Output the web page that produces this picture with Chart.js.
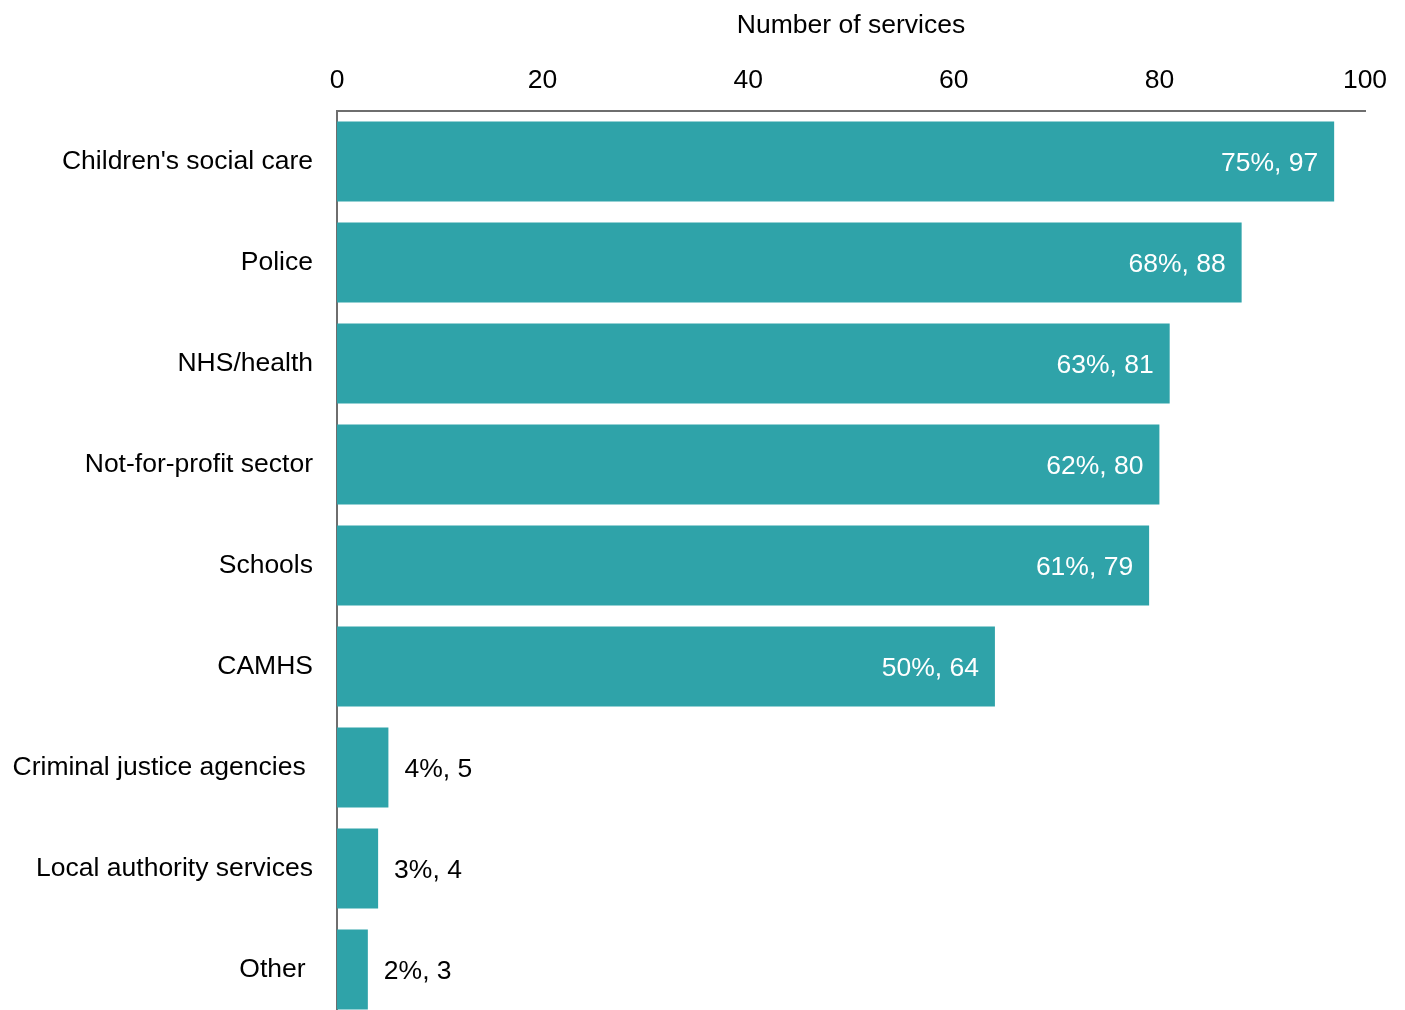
<!DOCTYPE html>
<html>
<head>
<meta charset="utf-8">
<script src="https://cdn.jsdelivr.net/npm/chart.js@4/dist/chart.umd.min.js"></script>
<style>
    html, body { margin: 0; padding: 0; background: #fff; overflow: hidden; }
    #servicesChart { position: absolute; left: 0; top: 0; }
</style>
</head>
<body>
<canvas id="servicesChart" width="1405" height="1020"></canvas>
<script>
// trailing spaces kept as in the source labels
const categories = [
    "Children's social care",
    'Police',
    'NHS/health',
    'Not-for-profit sector',
    'Schools',
    'CAMHS',
    'Criminal justice agencies ',
    'Local authority services',
    'Other '
];
const serviceCounts = [97, 88, 81, 80, 79, 64, 5, 4, 3];
const servicePercents = [75, 68, 63, 62, 61, 50, 4, 3, 2];
const xTicks = [0, 20, 40, 60, 80, 100];

const font = { family: '"Liberation Sans", Arial, sans-serif', size: 26.5 };

// value labels: white inside long bars, black beside short ones
const barLabels = {
    id: 'barLabels',
    afterDatasetsDraw(chart) {
        const ctx = chart.ctx;
        const meta = chart.getDatasetMeta(0);
        ctx.save();
        ctx.font = font.size + 'px ' + font.family;
        ctx.textBaseline = 'middle';
        meta.data.forEach(function(bar, i) {
            const text = servicePercents[i] + '%, ' + serviceCounts[i];
            if (serviceCounts[i] >= 20) {
                ctx.fillStyle = '#ffffff';
                ctx.textAlign = 'right';
                ctx.fillText(text, bar.x - 16, bar.y + 2);
            } else {
                ctx.fillStyle = '#000000';
                ctx.textAlign = 'left';
                ctx.fillText(text, bar.x + 16, bar.y + 2);
            }
        });
        ctx.restore();
    }
};

const ctxServices = document.getElementById('servicesChart').getContext('2d');
const servicesChart = new Chart(ctxServices, {
    type: 'bar',
    data: {
        labels: categories,
        datasets: [{
            label: 'Number of services',
            data: serviceCounts,
            backgroundColor: '#2fa3a9',
            borderWidth: 0,
            categoryPercentage: 1,
            barPercentage: 0.79
        }]
    },
    options: {
        indexAxis: 'y',
        responsive: false,
        animation: false,
        layout: { padding: { left: 0, right: 40, top: 0, bottom: 0 } },
        plugins: {
            legend: { display: false },
            tooltip: { enabled: false }
        },
        scales: {
            x: {
                position: 'top',
                min: 0,
                max: 100,
                z: 1,
                afterBuildTicks: function(scale) {
                    scale.ticks = xTicks.map(v => ({ value: v }));
                },
                afterFit: function(scale) { scale.height = 111; },
                grid: { display: false, drawTicks: false },
                border: { display: true, color: '#6e6e6e', width: 2 },
                ticks: { color: '#000', font: font, padding: 14, maxRotation: 0 },
                title: {
                    display: true,
                    text: 'Number of services',
                    color: '#000',
                    font: font,
                    padding: { top: 10, bottom: 0 }
                }
            },
            y: {
                z: 1,
                afterFit: function(scale) {
                    scale.width = 337;
                    // let the last band run off the bottom edge
                    scale.paddingTop = 0;
                    scale.paddingBottom = 0;
                },
                grid: { display: false, drawTicks: false },
                border: { display: true, color: '#6e6e6e', width: 2 },
                ticks: { color: '#000', font: font, padding: 24, autoSkip: false }
            }
        }
    },
    plugins: [barLabels]
});
</script>
</body>
</html>
